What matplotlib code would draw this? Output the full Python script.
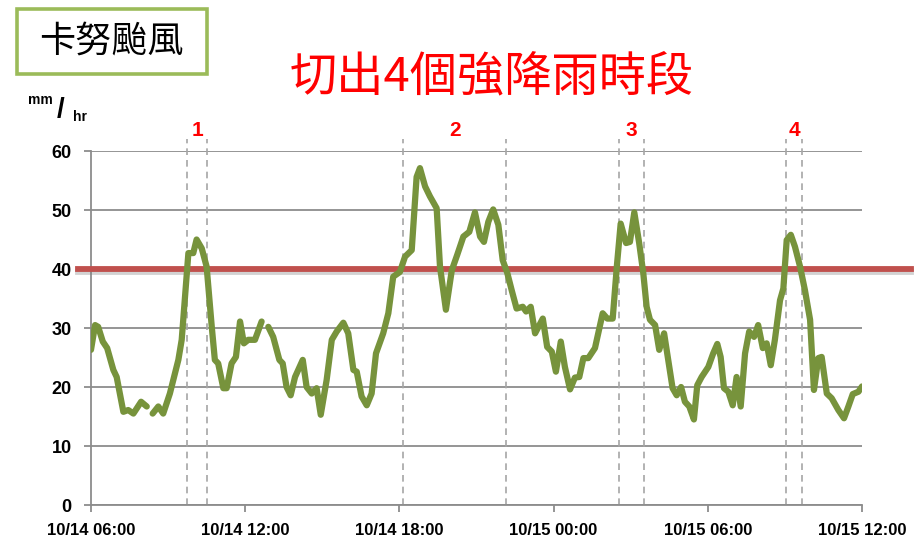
import numpy as np
import matplotlib
matplotlib.use("Agg")
import matplotlib.pyplot as plt
from matplotlib.patches import Rectangle
import matplotlib.patheffects as pe

plt.rcParams['font.family'] = ['Noto Sans CJK TC', 'DejaVu Sans']

# hours after 10/14 06:00 and rainfall (mm/hr); NaN = missing data
horas = [0.0, 0.16, 0.28, 0.46, 0.63, 0.87, 1.00, 1.26, 1.45, 1.65, 1.95, 2.17, 2.28,
         2.40, 2.62, 2.81, 3.07, 3.40, 3.53, 3.66, 3.79, 3.98, 4.11, 4.31, 4.50, 4.70,
         4.82, 4.95, 5.15, 5.28, 5.47, 5.64, 5.80, 5.95, 6.12, 6.38, 6.64, 6.77,
         6.90, 7.09, 7.33, 7.46, 7.61, 7.77, 7.94, 8.24, 8.39, 8.59, 8.78, 8.94, 9.17,
         9.37, 9.56, 9.82, 10.01, 10.21, 10.34, 10.53, 10.73, 10.92, 11.09, 11.37,
         11.57, 11.76, 12.02, 12.22, 12.48, 12.67, 12.80, 13.00, 13.19, 13.45, 13.58,
         13.81, 14.04, 14.25, 14.49, 14.72, 14.94, 15.14, 15.29, 15.46, 15.65, 15.85,
         16.02, 16.20, 16.37, 16.56, 16.80, 16.93, 17.11, 17.28, 17.58, 17.75, 17.93,
         18.09, 18.28, 18.44, 18.64, 18.83, 19.00, 19.16, 19.35, 19.61, 19.91, 20.09,
         20.30, 20.46, 20.61, 20.82, 20.97, 21.14, 21.33, 21.49, 21.62, 21.75, 21.95,
         22.11, 22.30, 22.46, 22.63, 22.79, 22.96, 23.11, 23.28, 23.46, 23.59, 23.76,
         24.02, 24.21, 24.37, 24.50, 24.63, 24.80, 24.97, 25.12, 25.28, 25.45, 25.61,
         25.80, 25.96, 26.14, 26.29, 26.45, 26.61, 26.81, 26.94, 27.07, 27.23, 27.39,
         27.59, 27.78, 27.98, 28.13, 28.30, 28.43, 28.63, 28.82, 29.08, 29.30, 29.47,
         29.64, 29.86, 30.0]
chuva = [26.3, 30.5, 30.2, 27.7, 26.6, 22.9, 21.7, 15.8, 16.1, 15.5, 17.5, 16.7, np.nan,
         15.5, 16.7, 15.5, 18.9, 24.6, 28.0, 35.3, 42.7, 42.7, 45.0, 43.5, 40.4, 30.2,
         24.6, 24.0, 19.8, 19.8, 24.0, 25.1, 31.1, 27.4, 28.0, 28.0, 31.1, np.nan,
         30.2, 28.5, 24.6, 24.0, 20.0, 18.6, 21.7, 24.6, 20.0, 18.9, 19.8, 15.3, 21.2,
         28.0, 29.4, 30.9, 29.1, 22.9, 22.6, 18.4, 16.9, 18.9, 25.7, 29.1,
         32.5, 38.7, 39.5, 42.1, 43.2, 55.6, 57.1, 54.0, 52.3, 50.3, 40.4,
         33.1, 39.8, 42.4, 45.5, 46.3, 49.6, 45.5, 44.6, 48.0, 50.1, 47.5,
         41.5, 39.3, 36.4, 33.3, 33.6, 32.8, 33.6, 29.1, 31.6, 26.8, 26.0,
         22.6, 27.7, 23.4, 19.6, 21.6, 21.7, 24.9, 24.9, 26.6, 32.5, 31.6,
         31.6, 40.4, 47.7, 44.4, 44.6, 49.6, 44.4, 39.3, 33.6, 31.4, 30.5,
         26.3, 29.1, 24.6, 19.8, 18.6, 20.0, 17.5, 16.7, 14.5, 20.3, 21.7,
         23.4, 25.7, 27.3, 25.1, 19.8, 19.2, 16.9, 21.7, 16.7, 25.7, 29.4,
         28.5, 30.5, 26.6, 27.4, 23.7, 28.0, 34.7, 36.7, 44.9, 45.8, 43.8,
         40.4, 36.4, 31.4, 19.5, 24.9, 25.1, 18.9, 18.1, 16.1, 14.7, 16.7,
         18.8, 19.2, 20.1]

limiar = 40
# heavy-rain windows (hours after 10/14 06:00)
inicio = [3.75, 12.15, 20.55, 27.05]
fim = [4.53, 16.15, 21.5, 27.67]
rotulos = ["1", "2", "3", "4"]

ticks_x = [0, 6, 12, 18, 24, 30]
ticks_x_lab = ["10/14 06:00", "10/14 12:00", "10/14 18:00",
               "10/15 00:00", "10/15 06:00", "10/15 12:00"]

latin = ['Liberation Sans', 'DejaVu Sans']

fig = plt.figure(figsize=(9.18, 5.38), dpi=100)
ax = fig.add_axes([0.0991, 0.0613, 0.8399, 0.658])

ax.set_xlim(0, 30)
ax.set_ylim(0, 60)
ax.set_yticks(np.arange(0, 61, 10))
ax.grid(axis="y", color="#8c8c8c", linewidth=1.3)
ax.set_axisbelow(True)

for s in ["top", "right"]:
    ax.spines[s].set_visible(False)
for s in ["left", "bottom"]:
    ax.spines[s].set_color("#8c8c8c")
    ax.spines[s].set_linewidth(1.3)

ax.set_xticks(ticks_x)
ax.set_xticklabels(ticks_x_lab)
ax.tick_params(axis="both", colors="#8c8c8c", length=5, width=1.3, labelcolor="black")
for lab in ax.get_xticklabels():
    lab.set_fontfamily(latin)
    lab.set_fontweight("bold")
    lab.set_fontsize(12)
for lab in ax.get_yticklabels():
    lab.set_fontfamily(latin)
    lab.set_fontweight("bold")
    lab.set_fontsize(13)
ax.tick_params(axis="x", pad=8)
ax.tick_params(axis="y", pad=9)

# dashed window lines
for a, b, r in zip(inicio, fim, rotulos):
    for xv in (a, b):
        ax.plot([xv, xv], [0, 62], ls=(0, (4, 3)), color="#a6a6a6", lw=1.2, clip_on=False)
    ax.text((a + b) / 2, 63.4, r, color="red", fontsize=15, fontweight="bold",
            ha="center", va="center", family=latin)

# threshold line with a soft shadow
ax.plot([-0.5, 31.9], [limiar, limiar], color="#c0504d", lw=4.2, clip_on=False, zorder=3,
        path_effects=[pe.SimpleLineShadow(offset=(0, -2), shadow_color="gray", alpha=0.35),
                      pe.Normal()])

ax.plot(horas, chuva, color="#77933c", lw=4.5, solid_capstyle="round",
        solid_joinstyle="round", zorder=4)

# titles
fig.text(0.536, 0.857, "切出4個強降雨時段", color="red", fontsize=34,
         ha="center", va="center")
fig.patches.append(Rectangle((0.018, 0.862), 0.207, 0.122, transform=fig.transFigure,
                             fill=False, edgecolor="#9bbb59", linewidth=2.6))
fig.text(0.121, 0.923, "卡努颱風", color="black", fontsize=26, ha="center", va="center")

# unit label mm/hr
fig.text(0.044, 0.814, "mm", fontsize=10, fontweight="bold", ha="center", va="center",
         family=latin)
fig.text(0.0655, 0.796, "/", fontsize=20, fontweight="bold", ha="center", va="center",
         family=latin)
fig.text(0.087, 0.782, "hr", fontsize=10, fontweight="bold", ha="center", va="center",
         family=latin)

fig.savefig("out.png", dpi=100)
